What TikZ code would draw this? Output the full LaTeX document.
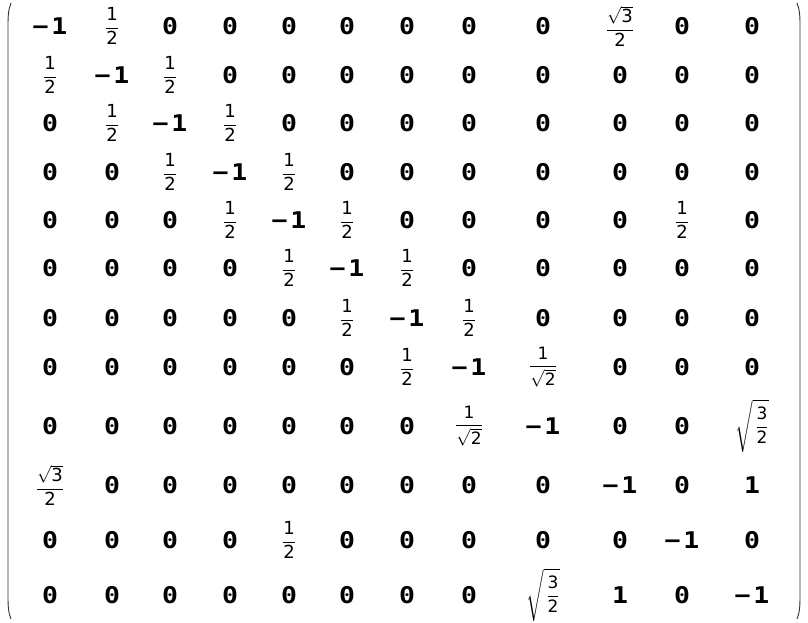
\documentclass[tikz,border=0pt]{standalone}
\usepackage{amsmath}
\usepackage{fontspec}
\setmainfont{DejaVu Sans}
\newfontfamily\monofont{DejaVu Sans Mono}[FakeStretch=1.15]
\tikzstyle{entry} = [inner sep=0pt,font=\monofont\bfseries\fontsize{23}{23}\selectfont]
\tikzstyle{paren} = [draw=black!80,line width=0.9pt]
\newcommand{\mone}{−\kern3pt1}
\newcommand{\half}{{\normalfont\fontsize{18}{18}\selectfont$\dfrac{\text{1}}{\text{2}}$}}
\newcommand{\rthree}{{\normalfont\fontsize{18}{18}\selectfont$\dfrac{\sqrt{\text{3}}}{\text{2}}$}}
\newcommand{\rtwo}{{\normalfont\fontsize{17}{17}\selectfont$\dfrac{\text{1}}{\sqrt{\text{2}}}$}}
\newcommand{\rhalf}{{\normalfont\fontsize{17}{17}\selectfont$\sqrt{\,\dfrac{\text{3}}{\text{2}}\vphantom{\bigg|}}$}}
\begin{document}
\begin{tikzpicture}[x=1pt,y=-1pt]
  \useasboundingbox (0,0) rectangle (808,622);
  % Column and row positions
  \def\colx{{50,112,170,230,289,347,407,469,543,620,682,752}}
  \def\rowy{{26,75,123,172,220,268,318,367,426,485,540,595}}
  % Matrix entries
  \foreach \r [count=\i] in {
    {\mone,\half,0,0,0,0,0,0,0,\rthree,0,0},
    {\half,\mone,\half,0,0,0,0,0,0,0,0,0},
    {0,\half,\mone,\half,0,0,0,0,0,0,0,0},
    {0,0,\half,\mone,\half,0,0,0,0,0,0,0},
    {0,0,0,\half,\mone,\half,0,0,0,0,\half,0},
    {0,0,0,0,\half,\mone,\half,0,0,0,0,0},
    {0,0,0,0,0,\half,\mone,\half,0,0,0,0},
    {0,0,0,0,0,0,\half,\mone,\rtwo,0,0,0},
    {0,0,0,0,0,0,0,\rtwo,\mone,0,0,\rhalf},
    {\rthree,0,0,0,0,0,0,0,0,\mone,0,1},
    {0,0,0,0,\half,0,0,0,0,0,\mone,0},
    {0,0,0,0,0,0,0,0,\rhalf,1,0,\mone}} {
    \foreach \e [count=\j] in \r {
      \pgfmathsetmacro{\x}{\colx[\j-1]}
      \pgfmathsetmacro{\y}{\rowy[\i-1]}
      \node[entry] (m-\i-\j) at (\x,\y) {\e};
    }
  }
  % Parentheses
  \draw[paren] (11,3) .. controls (8,10) and (8,18) .. (8,28) -- (8,594) .. controls (8,604) and (8,612) .. (11,619);
  \draw[paren] (797,3) .. controls (800,10) and (800,18) .. (800,28) -- (800,594) .. controls (800,604) and (800,612) .. (797,619);
\end{tikzpicture}
\end{document}
